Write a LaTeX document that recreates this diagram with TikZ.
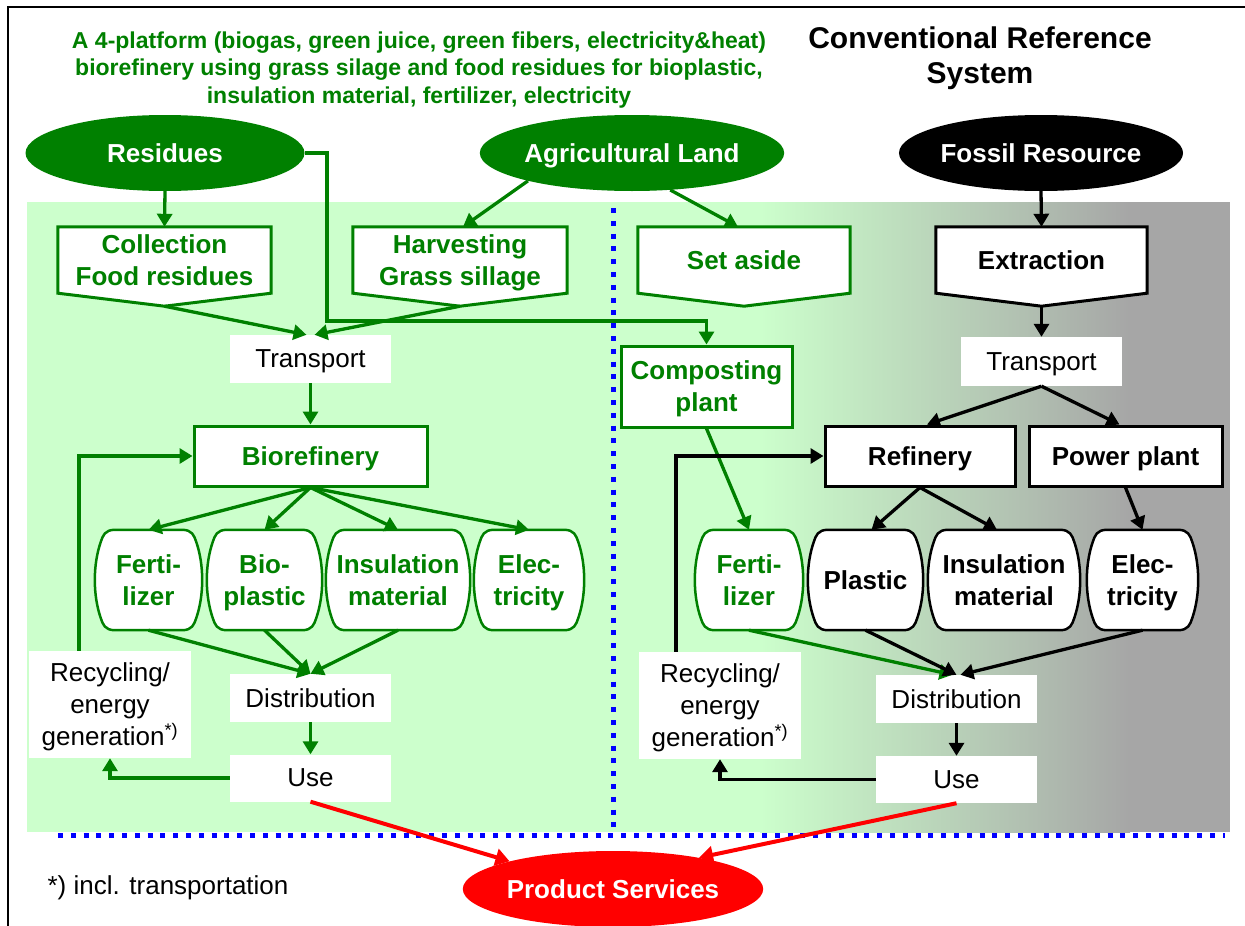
\documentclass[tikz,border=0pt]{standalone}
\usepackage{fontspec}
\setmainfont{Liberation Sans}
\usetikzlibrary{arrows.meta,shapes.geometric,positioning}
\pgfdeclarelayer{background}
\pgfsetlayers{background,main}
\definecolor{dkgreen}{RGB}{0,128,0}
\definecolor{bggreen}{RGB}{204,255,204}
\definecolor{bggray}{RGB}{166,166,166}
\tikzset{
  txt/.style={font=\fontsize{26}{32}\selectfont, text depth=0pt},
  btxt/.style={font=\fontsize{26}{32}\selectfont\bfseries, text depth=0pt},
  srcell/.style={ellipse, minimum width=279pt, minimum height=76pt, inner sep=0pt, btxt, text=white},
  whitebox/.style={fill=white, txt, minimum width=161pt, minimum height=48pt, inner sep=0pt, align=center},
  stepbox/.style={draw=#1, line width=3pt, fill=white, btxt, text=#1, minimum height=60pt, inner sep=0pt, align=center},
  prod/.style={btxt, text=#1, minimum height=100pt, inner sep=0pt, align=center},
  penta/.style={btxt, text=#1, minimum height=66pt, inner sep=0pt, align=center},
  garrow/.style={dkgreen, line width=3.3pt, -{Triangle[length=13pt,width=15pt]}},
  karrow/.style={black, line width=3.3pt, -{Triangle[length=13pt,width=15pt]}},
  rarrow/.style={red, line width=4pt, -{Triangle[length=14pt,width=17pt]}},
  bluedot/.style={blue, line width=5pt, dash pattern=on 5pt off 7.8pt},
}
\begin{document}
\begin{tikzpicture}[x=1pt,y=-1pt]
\useasboundingbox (0,0) rectangle (1245,926);
% background areas
\begin{pgfonlayer}{background}
  \fill[bggreen] (27,202) rectangle (760,832);
  \shade[left color=bggreen, right color=bggray] (760,202) rectangle (1130,832);
  \fill[bggray] (1130,202) rectangle (1230,832);
\end{pgfonlayer}
\draw[line width=2pt] (8,926) -- (8,7) -- (1245,7);
\draw[bluedot] (613,208) -- (613,832);
\draw[bluedot] (58,835.5) -- (1225,835.5);

% titles
\node[text=dkgreen, font=\fontsize{23}{27.5}\selectfont\bfseries, align=center] (title) at (419,70)
  {A 4-platform (biogas, green juice, green fibers, electricity\&heat)\\
   biorefinery using grass silage and food residues for bioplastic,\\
   insulation material, fertilizer, electricity};
\node[font=\fontsize{30}{35}\selectfont\bfseries, align=center] (reftitle) at (980,58) {Conventional Reference\\System};

% sources
\node[srcell, fill=dkgreen] (resid) at (165,153) {Residues};
\node[srcell, fill=dkgreen] (agri) at (632,153) {Agricultural\ Land};
\node[srcell, fill=black] (fossil) at (1041,153) {Fossil Resource};
\node[srcell, fill=red] (prodserv) at (613,889) {Product Services};

% first steps
\node[penta=dkgreen, minimum width=213pt] (coll) at (164.5,260) {Collection\\Food residues};
\node[penta=dkgreen, minimum width=214pt] (harv) at (460,260) {Harvesting\\Grass sillage};
\node[penta=dkgreen, minimum width=212pt] (setas) at (744,260) {Set aside};
\node[penta=black, minimum width=211pt] (extr) at (1041.5,260) {Extraction};
\begin{pgfonlayer}{background}
  \foreach \n/\c in {coll/dkgreen,harv/dkgreen,setas/dkgreen,extr/black} {
    \draw[\c, line width=3pt, fill=white] (\n.north west) -- (\n.north east) -- (\n.south east)
      -- ([yshift=-13pt]\n.south) coordinate (\n tip) -- (\n.south west) -- cycle;
  }
\end{pgfonlayer}

% biorefinery side
\node[whitebox] (transL) at (310.5,359) {Transport};
\node[stepbox=dkgreen, minimum width=233pt] (bioref) at (310.5,456) {Biorefinery};
\node[prod=dkgreen, minimum width=107pt] (fertL) at (148.5,580) {Ferti-\\lizer};
\node[prod=dkgreen, minimum width=115pt] (bioplL) at (264.5,580) {Bio-\\plastic};
\node[prod=dkgreen, minimum width=144pt] (insulL) at (398,580) {Insulation\\material};
\node[prod=dkgreen, minimum width=110pt] (elecL) at (529,580) {Elec-\\tricity};
\node[whitebox] (distL) at (310.5,698) {Distribution};
\node[whitebox, minimum height=47pt] (useL) at (310.5,778) {Use};
\node[whitebox, minimum width=162pt, minimum height=107pt] (recycL) at (110,704.5) {Recycling/\\energy\\generation\textsuperscript{*)}};

% reference side
\node[whitebox, minimum height=49pt] (transR) at (1041.5,361.5) {Transport};
\node[stepbox=dkgreen, minimum width=171pt, minimum height=81pt] (compost) at (706.5,386.5) {Composting\\plant};
\node[stepbox=black, minimum width=190pt] (refin) at (920,456) {Refinery};
\node[stepbox=black, minimum width=193pt] (power) at (1125.5,456) {Power\ plant};
\node[prod=dkgreen, minimum width=108pt] (fertR) at (749,580) {Ferti-\\lizer};
\node[prod=black, minimum width=115pt] (plastR) at (865.5,580) {Plastic};
\node[prod=black, minimum width=152pt] (insulR) at (1004,580) {Insulation\\material};
\node[prod=black, minimum width=111pt] (elecR) at (1142.5,580) {Elec-\\tricity};
\node[whitebox] (distR) at (956.5,699) {Distribution};
\node[whitebox, minimum height=47pt] (useR) at (956.5,779.5) {Use};
\node[whitebox, minimum width=162pt, minimum height=107pt] (recycR) at (720,705.5) {Recycling/\\energy\\generation\textsuperscript{*)}};

% barrel outlines of the products
\begin{pgfonlayer}{background}
  \foreach \n/\c in {fertL/dkgreen,bioplL/dkgreen,insulL/dkgreen,elecL/dkgreen,
                     fertR/dkgreen,plastR/black,insulR/black,elecR/black} {
    \draw[\c, line width=2.5pt, fill=white] ([xshift=20pt]\n.north west) -- ([xshift=-20pt]\n.north east)
      .. controls ([xshift=-10pt]\n.north east) and ([xshift=-8pt,yshift=-6pt]\n.north east) .. ([xshift=-6pt,yshift=-12pt]\n.north east)
      .. controls ([xshift=2pt,yshift=-35pt]\n.north east) and ([xshift=2pt,yshift=35pt]\n.south east) .. ([xshift=-6pt,yshift=12pt]\n.south east)
      .. controls ([xshift=-8pt,yshift=6pt]\n.south east) and ([xshift=-10pt]\n.south east) .. ([xshift=-20pt]\n.south east)
      -- ([xshift=20pt]\n.south west)
      .. controls ([xshift=10pt]\n.south west) and ([xshift=8pt,yshift=6pt]\n.south west) .. ([xshift=6pt,yshift=12pt]\n.south west)
      .. controls ([xshift=-2pt,yshift=35pt]\n.south west) and ([xshift=-2pt,yshift=-35pt]\n.north west) .. ([xshift=6pt,yshift=-12pt]\n.north west)
      .. controls ([xshift=8pt,yshift=-6pt]\n.north west) and ([xshift=10pt]\n.north west) .. cycle;
  }
\end{pgfonlayer}

\node[txt] (fnote) at (168,885) {*) incl. transportation};

% green flows
\draw[garrow] (resid.south) -- (coll.north);
\draw[garrow] (resid.east) -| (327,321) -| (compost.north);
\draw[garrow] (agri.195) -- ([xshift=3pt]harv.north);
\draw[garrow] (agri.316) -- ([xshift=-6pt]setas.north);
\draw[garrow] (colltip) -- ([xshift=-4pt]transL.north);
\draw[garrow] (harvtip) -- ([xshift=4pt]transL.north);
\draw[garrow] (transL.south) -- (bioref.north);
\foreach \p in {fertL,bioplL,insulL,elecL}
  \draw[garrow] (bioref.south) -- (\p.north);
\foreach \p in {fertL,bioplL,insulL}
  \draw[garrow] (\p.south) -- (distL.north);
\draw[garrow] (distL.south) -- (useL.north);
\draw[garrow] (useL.west) -| (recycL.south);
\draw[garrow] ([xshift=-31pt]recycL.north) |- (bioref.west);
\draw[garrow] (compost.south) -- (fertR.north);
\draw[garrow] (fertR.south) -- ([xshift=-4pt]distR.north);

% black flows
\draw[karrow] (fossil.south) -- (extr.north);
\draw[karrow] (extrtip) -- (transR.north);
\draw[karrow] (transR.south) -- ([xshift=7pt]refin.north);
\draw[karrow] (transR.south) -- ([xshift=-6pt]power.north);
\draw[karrow] (refin.south) -- ([xshift=6pt]plastR.north);
\draw[karrow] (refin.south) -- ([xshift=-7pt]insulR.north);
\draw[karrow] (power.south) -- (elecR.north);
\draw[karrow] (plastR.south) -- (distR.north);
\draw[karrow] (elecR.south) -- ([xshift=4pt]distR.north);
\draw[karrow] (distR.south) -- (useR.north);
\draw[karrow] (useR.west) -| (recycR.south);
\draw[karrow] ([xshift=-44pt]recycR.north) |- (refin.west);

% to product services
\draw[rarrow] (useL.south) -- (prodserv.165);
\draw[rarrow] (useR.south) -- (prodserv.20);
\end{tikzpicture}
\end{document}
